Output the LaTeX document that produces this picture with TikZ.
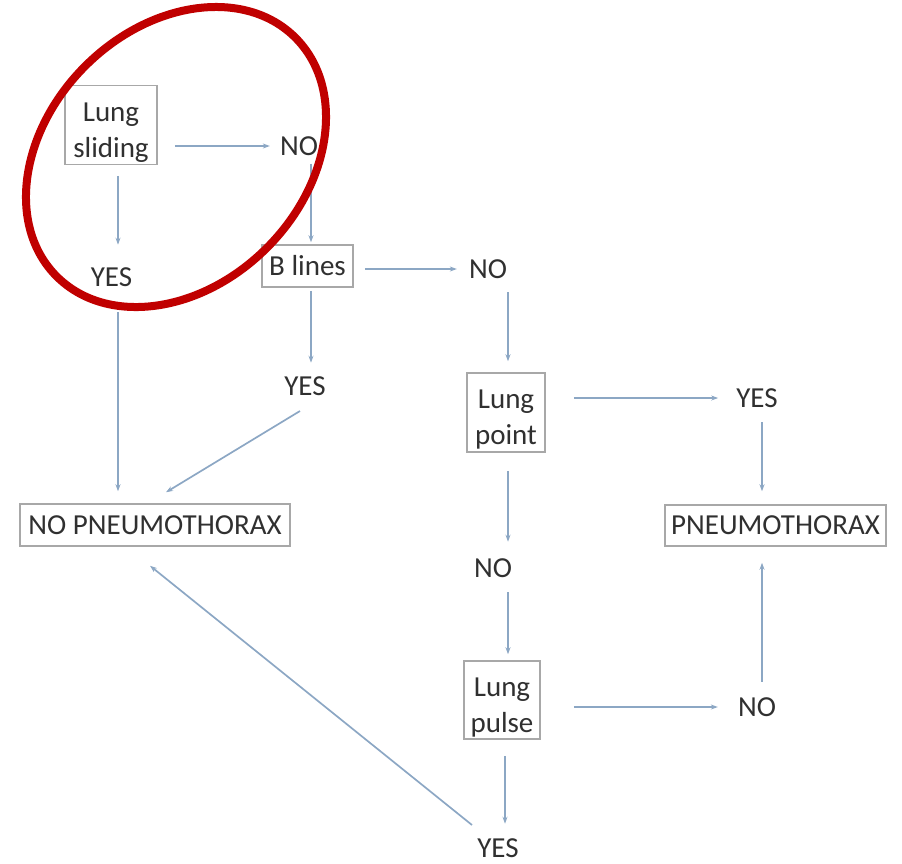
\documentclass[tikz,border=0pt]{standalone}
\usepackage{fontspec}
\setmainfont{Carlito}
\usetikzlibrary{arrows.meta}
\definecolor{txt}{HTML}{303030}
\definecolor{boxc}{HTML}{A8A8A8}
\definecolor{arrc}{HTML}{8CA7C4}
\definecolor{ring}{HTML}{C00000}
\newcommand{\topstrut}{\rule{0pt}{33pt}}
\begin{document}
\begin{tikzpicture}[x=1pt,y=-1pt,
  every node/.style={font=\fontsize{29}{36}\selectfont, text=txt, inner sep=0pt, align=center},
  stepbox/.style={draw=boxc, line width=1.5pt},
  arr/.style={draw=arrc, line width=1.7pt, -{Stealth[length=7pt,width=5pt]}}]
\useasboundingbox (0,0) rectangle (902,863);
% boxes
\node[stepbox, minimum width=92pt, minimum height=79pt] (lungsliding) at (111,125) {\topstrut Lung\\sliding};
\node[stepbox, minimum width=91pt, minimum height=42pt] (blines) at (307.5,266) {B lines};
\node[stepbox, minimum width=78pt, minimum height=79pt] (lungpoint) at (506,412.5) {\topstrut Lung\\point};
\node[stepbox, minimum width=76pt, minimum height=78pt] (lungpulse) at (502,700) {\topstrut Lung\\pulse};
\node[stepbox, minimum width=270pt, minimum height=42pt] (nopneumo) at (155,525) {NO PNEUMOTHORAX};
\node[stepbox, minimum width=221pt, minimum height=41pt] (pneumo) at (775.5,525.5) {PNEUMOTHORAX};
% labels
\node (no1) at (299,146) {NO};
\node (yes1) at (111.5,277) {YES};
\node (no2) at (488,269) {NO};
\node (yes2) at (305,386) {YES};
\node (yes3) at (757,398) {YES};
\node (no4) at (493,568) {NO};
\node (no5) at (757,707) {NO};
\node (yes4) at (498,848) {YES};
% arrows
\draw[arr, shorten <=17pt, shorten >=10pt] (lungsliding.east |- no1) -- (no1.west);
\draw[arr, shorten <=10.5pt, shorten >=22.6pt] ([xshift=7pt]lungsliding.south) -- ([xshift=6.5pt]yes1.north);
\draw[arr, shorten <=8pt, shorten >=2pt] ([xshift=12pt]no1.south) -- ([xshift=3.5pt]blines.north);
\draw[arr, shorten <=11pt, shorten >=12pt] (blines.east |- no2) -- (no2.west);
\draw[arr, shorten <=13.6pt, shorten >=11pt] ([xshift=20pt]no2.south) -- ([xshift=2pt]lungpoint.north);
\draw[arr, shorten <=28pt, shorten >=18pt] (lungpoint.east |- yes3) -- (yes3.west);
\draw[arr, shorten <=14.6pt, shorten >=13pt] ([xshift=5pt]yes3.south) -- ([xshift=-13.5pt]pneumo.north);
\draw[arr, shorten <=3pt, shorten >=13.6pt] ([xshift=3.5pt]blines.south) -- ([xshift=6pt]yes2.north);
\draw[arr] ([xshift=-5pt,yshift=-25pt]yes2.center) -- ([xshift=11pt,yshift=11pt]nopneumo.north);
\draw[arr, shorten <=25.6pt, shorten >=12pt] ([xshift=6.5pt]yes1.south) -- ([xshift=-37pt]nopneumo.north);
\draw[arr, shorten <=18pt, shorten >=16.6pt] ([xshift=2pt]lungpoint.south) -- ([xshift=15pt]no4.north);
\draw[arr, shorten <=14.6pt, shorten >=6pt] ([xshift=15pt]no4.south) -- ([xshift=6pt]lungpulse.north);
\draw[arr, shorten <=33pt, shorten >=20pt] (lungpulse.east |- no5) -- (no5.west);
\draw[arr, shorten <=15.6pt, shorten >=16pt] ([xshift=5pt]no5.north) -- ([xshift=-13.5pt]pneumo.south);
\draw[arr, shorten <=16pt, shorten >=14.6pt] ([xshift=3pt]lungpulse.south) -- ([xshift=7pt]yes4.north);
\draw[arr] ([xshift=-26pt,yshift=23pt]yes4.center) -- ([xshift=-5pt,yshift=-19pt]nopneumo.south);
% red ring
\draw[ring, line width=8pt, shift={(176,157)}, rotate=45] (0,0) ellipse [x radius=168.8pt, y radius=128.5pt];
\end{tikzpicture}
\end{document}
